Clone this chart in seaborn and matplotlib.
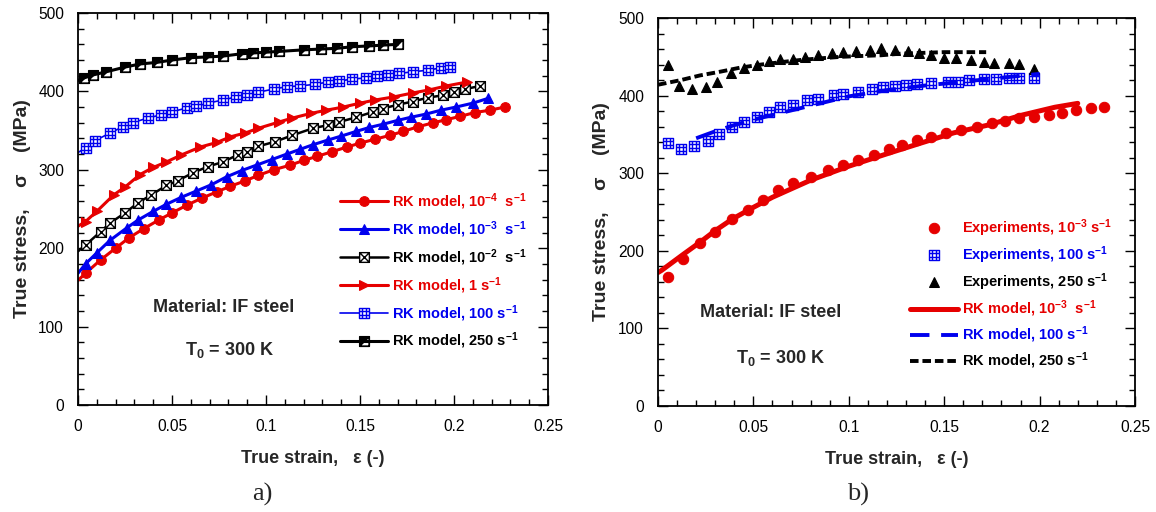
import matplotlib
matplotlib.use('Agg')
import matplotlib.pyplot as plt
import seaborn as sns
import numpy as np
import pandas as pd
from matplotlib.path import Path
from matplotlib.ticker import MultipleLocator, FuncFormatter

# ---------------- panel a: RK model curves ----------------
eps_a_1e4 = [0, 0.004, 0.012, 0.020, 0.027, 0.035, 0.043, 0.050, 0.058, 0.066, 0.074, 0.081, 0.089, 0.096, 0.104,
             0.113, 0.120, 0.127, 0.135, 0.143, 0.150, 0.158, 0.166, 0.173, 0.181, 0.189, 0.196, 0.203, 0.211, 0.219, 0.227]
sig_a_1e4 = [159, 168, 185, 200, 213, 225, 236, 245, 255, 264, 272, 279, 286, 293, 300,
             306, 312, 317, 323, 329, 334, 339, 344, 349, 355, 360, 364, 368, 373, 376, 380]

eps_a_1e3 = [0, 0.004, 0.010, 0.017, 0.026, 0.032, 0.040, 0.047, 0.055, 0.063, 0.071, 0.079, 0.087, 0.095, 0.103,
             0.111, 0.118, 0.125, 0.133, 0.140, 0.148, 0.155, 0.162, 0.170, 0.177, 0.185, 0.193, 0.201, 0.210, 0.218]
sig_a_1e3 = [168, 180, 194, 210, 226, 236, 247, 256, 265, 273, 281, 291, 299, 306, 313,
             320, 326, 332, 338, 343, 349, 354, 358, 363, 367, 371, 376, 380, 385, 391]

eps_a_1e2 = [0, 0.004, 0.012, 0.017, 0.025, 0.032, 0.039, 0.047, 0.053, 0.061, 0.069, 0.077, 0.085, 0.090, 0.096,
             0.105, 0.114, 0.125, 0.133, 0.139, 0.148, 0.157, 0.162, 0.170, 0.178, 0.186, 0.194, 0.200, 0.206, 0.214]
sig_a_1e2 = [196, 204, 221, 232, 245, 258, 268, 280, 286, 296, 304, 310, 319, 323, 330,
             336, 344, 353, 357, 361, 367, 374, 378, 383, 387, 392, 395, 399, 403, 407]

eps_a_1 = [0, 0.004, 0.010, 0.019, 0.025, 0.033, 0.040, 0.047, 0.055, 0.065, 0.074, 0.081, 0.089, 0.096,
           0.107, 0.114, 0.124, 0.132, 0.141, 0.150, 0.158, 0.168, 0.178, 0.187, 0.196, 0.207]
sig_a_1 = [228, 234, 247, 268, 278, 294, 303, 310, 319, 329, 335, 342, 347, 353,
           361, 366, 372, 376, 380, 385, 389, 393, 398, 402, 407, 412]

eps_a_100 = [0, 0.004, 0.009, 0.017, 0.024, 0.029, 0.037, 0.044, 0.050, 0.058, 0.063, 0.069, 0.077, 0.084, 0.090, 0.096,
             0.104, 0.111, 0.118, 0.126, 0.133, 0.139, 0.146, 0.153, 0.159, 0.165, 0.171, 0.178, 0.186, 0.193, 0.198]
sig_a_100 = [322, 328, 337, 347, 355, 360, 366, 370, 374, 379, 381, 385, 389, 393, 395, 399,
             403, 406, 407, 409, 412, 413, 416, 417, 420, 421, 423, 425, 427, 430, 431]

eps_a_250 = [0, 0.003, 0.008, 0.015, 0.025, 0.033, 0.042, 0.050, 0.060, 0.069, 0.077, 0.087, 0.093, 0.100,
             0.107, 0.120, 0.129, 0.138, 0.146, 0.155, 0.162, 0.170]
sig_a_250 = [414, 417, 421, 425, 431, 435, 437, 440, 443, 444, 445, 448, 449, 450,
             451, 453, 454, 455, 457, 458, 459, 460]

# ---------------- panel b: experiments + RK model ----------------
eps_exp_1e3 = [0.005, 0.013, 0.022, 0.030, 0.039, 0.047, 0.055, 0.063, 0.071, 0.080, 0.089, 0.097, 0.105, 0.113, 0.121,
               0.128, 0.136, 0.143, 0.151, 0.159, 0.167, 0.175, 0.182, 0.189, 0.197, 0.205, 0.212, 0.219, 0.227, 0.234]
sig_exp_1e3 = [166, 189, 210, 224, 241, 253, 266, 278, 287, 295, 304, 311, 317, 323, 331,
               336, 343, 347, 352, 356, 360, 365, 367, 371, 372, 375, 378, 381, 384, 385]

eps_exp_100 = [0.005, 0.012, 0.019, 0.026, 0.032, 0.039, 0.045, 0.052, 0.058, 0.064, 0.071, 0.078, 0.084, 0.092, 0.097,
               0.105, 0.112, 0.118, 0.124, 0.130, 0.136, 0.143, 0.152, 0.157, 0.163, 0.171, 0.177, 0.184, 0.189, 0.197]
sig_exp_100 = [339, 331, 335, 341, 350, 360, 366, 372, 379, 385, 388, 394, 395, 401, 402,
               405, 408, 411, 412, 414, 415, 416, 418, 418, 420, 421, 421, 423, 423, 423]

eps_exp_250 = [0.005, 0.011, 0.018, 0.025, 0.031, 0.038, 0.045, 0.052, 0.058, 0.064, 0.071, 0.077, 0.084, 0.091, 0.097,
               0.104, 0.111, 0.117, 0.124, 0.131, 0.137, 0.143, 0.150, 0.156, 0.164, 0.171, 0.176, 0.184, 0.189, 0.197]
sig_exp_250 = [439, 412, 408, 411, 418, 429, 435, 439, 445, 447, 447, 450, 452, 455, 456,
               457, 459, 461, 459, 457, 455, 452, 448, 448, 446, 443, 442, 442, 441, 434]

eps_rk_1e3 = [0, 0.002, 0.013, 0.022, 0.030, 0.039, 0.05, 0.06, 0.08, 0.10, 0.12, 0.138, 0.155, 0.173, 0.191, 0.208, 0.220]
sig_rk_1e3 = [172, 175, 195, 211, 226, 241, 256, 269, 291, 309, 325, 339, 352, 362, 375, 385, 390]

eps_rk_100 = [0.020, 0.03, 0.04, 0.05, 0.06, 0.08, 0.10, 0.12, 0.14, 0.16, 0.18, 0.20]
sig_rk_100 = [345, 354, 362, 369, 375, 387, 399, 407, 413, 418, 423, 428]

eps_rk_250 = [0, 0.012, 0.022, 0.033, 0.043, 0.054, 0.064, 0.075, 0.085, 0.096, 0.106, 0.117, 0.127, 0.138, 0.150, 0.160, 0.172]
sig_rk_250 = [414, 420, 426, 431, 436, 440, 443, 446, 448, 450, 451, 452, 454, 455, 456, 456, 456]

RED = '#e60000'
BLUE = '#0000ee'
BLACK = '#000000'

# custom markers
M, L, C = Path.MOVETO, Path.LINETO, Path.CLOSEPOLY
box_x = Path([(-1, -1), (1, -1), (1, 1), (-1, 1), (-1, -1),
              (-1, -1), (1, 1), (-1, 1), (1, -1)],
             [M, L, L, L, C, M, L, M, L])
t = 1 / 3
box_grid = Path([(-1, -1), (1, -1), (1, 1), (-1, 1), (-1, -1),
                 (-t, -1), (-t, 1), (t, -1), (t, 1),
                 (-1, -t), (1, -t), (-1, t), (1, t)],
                [M, L, L, L, C, M, L, M, L, M, L, M, L])
# square (ccw) + lower-right triangle (cw) -> upper-left half filled
box_half = Path([(-1, -1), (1, -1), (1, 1), (-1, 1), (-1, -1),
                 (-1, -1), (1, 1), (1, -1), (-1, -1)],
                [M, L, L, L, C, M, L, L, C])

sns.set_style('ticks')
plt.rcParams['font.family'] = ['Liberation Sans', 'DejaVu Sans']
plt.rcParams['mathtext.default'] = 'regular'

fig = plt.figure(figsize=(11.56, 5.12), dpi=100)
ax_a = fig.add_axes([78 / 1156, 1 - 405 / 512, 470 / 1156, 392 / 512])
ax_b = fig.add_axes([658 / 1156, 1 - 406 / 512, 477 / 1156, 388 / 512])


def line(ax, x, y, color, label, **kw):
    sns.lineplot(x=x, y=y, ax=ax, color=color, label=label, estimator=None, sort=False, **kw)


lw_a = 2.2
ms_a = 7
line(ax_a, eps_a_1e4, sig_a_1e4, RED, r'RK model, 10$^{-4}$  s$^{-1}$', lw=lw_a, marker='o', ms=ms_a,
     mfc=RED, mec=RED, markevery=slice(1, None))
line(ax_a, eps_a_1e3, sig_a_1e3, BLUE, r'RK model, 10$^{-3}$  s$^{-1}$', lw=lw_a, marker='^', ms=ms_a,
     mfc=BLUE, mec=BLUE, markevery=slice(1, None))
line(ax_a, eps_a_1e2, sig_a_1e2, BLACK, r'RK model, 10$^{-2}$  s$^{-1}$', lw=1.8, marker=box_x, ms=ms_a,
     mfc='white', mec=BLACK, mew=1.0, markevery=slice(1, None))
line(ax_a, eps_a_1, sig_a_1, RED, r'RK model, 1 s$^{-1}$', lw=lw_a, marker='>', ms=ms_a,
     mfc=RED, mec=RED, markevery=slice(1, None))
line(ax_a, eps_a_100, sig_a_100, BLUE, r'RK model, 100 s$^{-1}$', lw=1.2, marker=box_grid, ms=ms_a,
     mfc='white', mec=BLUE, mew=1.0, markevery=slice(1, None))
line(ax_a, eps_a_250, sig_a_250, BLACK, r'RK model, 250 s$^{-1}$', lw=lw_a, marker=box_half, ms=ms_a,
     mfc=BLACK, mec=BLACK, mew=1.0, markevery=slice(1, None))

line(ax_b, eps_exp_1e3, sig_exp_1e3, RED, r'Experiments, 10$^{-3}$ s$^{-1}$', ls='', marker='o', ms=7.5,
     mfc=RED, mec=RED)
line(ax_b, eps_exp_100, sig_exp_100, BLUE, r'Experiments, 100 s$^{-1}$', ls='', marker=box_grid, ms=7.5,
     mfc='white', mec=BLUE, mew=1.0)
line(ax_b, eps_exp_250, sig_exp_250, BLACK, r'Experiments, 250 s$^{-1}$', ls='', marker='^', ms=7.5,
     mfc=BLACK, mec=BLACK)
line(ax_b, eps_rk_1e3, sig_rk_1e3, RED, r'RK model, 10$^{-3}$  s$^{-1}$', lw=3.6)
line(ax_b, eps_rk_100, sig_rk_100, BLUE, r'RK model, 100 s$^{-1}$', lw=2.8, dashes=(5, 3))
line(ax_b, eps_rk_250, sig_rk_250, BLACK, r'RK model, 250 s$^{-1}$', lw=2.8, dashes=(2.2, 1.0))

for ax in (ax_a, ax_b):
    ax.set_xlim(0, 0.25)
    ax.set_ylim(0, 500)
    ax.xaxis.set_major_locator(MultipleLocator(0.05))
    ax.xaxis.set_minor_locator(MultipleLocator(0.01))
    ax.yaxis.set_major_locator(MultipleLocator(100))
    ax.yaxis.set_minor_locator(MultipleLocator(20))
    ax.xaxis.set_major_formatter(FuncFormatter(lambda v, p: f'{v:g}'))
    ax.tick_params(which='both', direction='in', top=True, right=True, width=1.0, colors='black',
                   labelsize=11.2, pad=10)
    ax.tick_params(which='major', length=7)
    ax.tick_params(which='minor', length=4)
    for s in ax.spines.values():
        s.set_linewidth(1.3)
        s.set_color('black')
    ax.set_xlabel('True strain,   ε (-)', fontsize=13, fontweight='bold')
    ax.set_ylabel('True stress,    σ    (MPa)', fontsize=14, fontweight='bold')
    ax.xaxis.set_label_coords(0.5, -0.115)

ax_a.yaxis.set_label_coords(-0.1, 0.5)
ax_b.yaxis.set_label_coords(-0.1, 0.5)

leg_kw = dict(frameon=False, prop={'size': 10.5, 'weight': 'bold'}, handlelength=3.3,
              handletextpad=0.3, borderpad=0, borderaxespad=0, loc='upper left')
leg_a = ax_a.legend(bbox_to_anchor=(0.557, 0.545), labelspacing=0.5, **leg_kw)
for txt, c in zip(leg_a.get_texts(), [RED, BLUE, BLACK, RED, BLUE, BLACK]):
    txt.set_color(c)
leg_b = ax_b.legend(bbox_to_anchor=(0.528, 0.485), labelspacing=0.37, **leg_kw)
for txt, c in zip(leg_b.get_texts(), [RED, BLUE, BLACK, RED, BLUE, BLACK]):
    txt.set_color(c)

# annotations
ax_a.text(0.31, 0.248, 'Material: IF steel', transform=ax_a.transAxes, fontsize=13, fontweight='bold',
          ha='center', va='center')
ax_a.text(0.322, 0.14, r'T$_0$ = 300 K', transform=ax_a.transAxes, fontsize=13, fontweight='bold',
          ha='center', va='center')
ax_b.text(0.237, 0.24, 'Material: IF steel', transform=ax_b.transAxes, fontsize=13, fontweight='bold',
          ha='center', va='center')
ax_b.text(0.256, 0.125, r'T$_0$ = 300 K', transform=ax_b.transAxes, fontsize=13, fontweight='bold',
          ha='center', va='center')

fig.text(262 / 1156, 1 - 494 / 512, 'a)', fontsize=19, family=['Liberation Serif', 'DejaVu Serif'],
         ha='center', va='center')
fig.text(858 / 1156, 1 - 494 / 512, 'b)', fontsize=19, family=['Liberation Serif', 'DejaVu Serif'],
         ha='center', va='center')

fig.savefig('out.png', dpi=100)
